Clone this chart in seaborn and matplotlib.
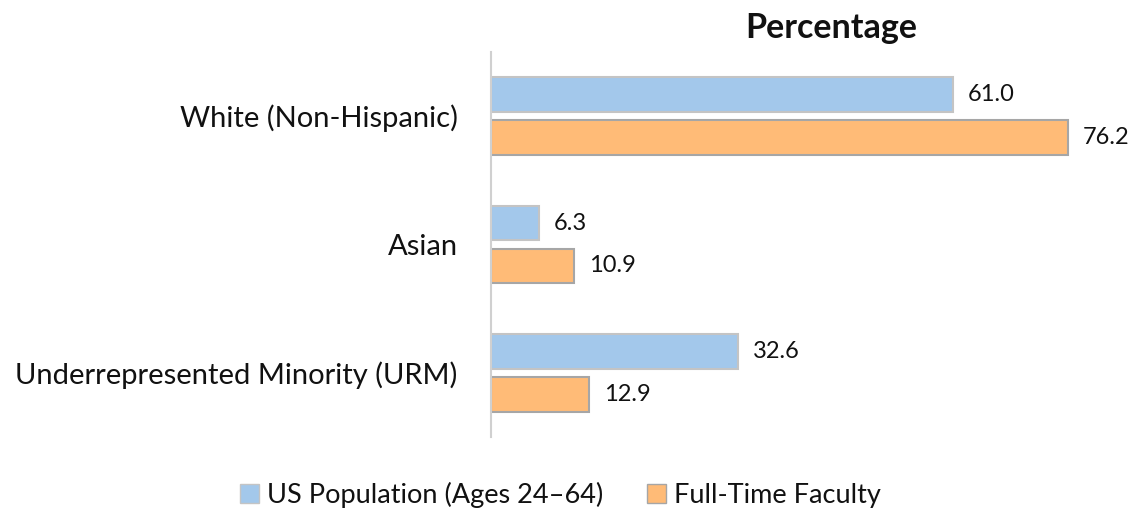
import matplotlib
matplotlib.use("Agg")
import matplotlib.pyplot as plt
import seaborn as sns
import pandas as pd
from matplotlib.patches import Patch

categories = ["White (Non-Hispanic)", "Asian", "Underrepresented Minority (URM)"]
series = ["US Population (Ages 24\u201364)", "Full-Time Faculty"]
us_population = [61.0, 6.3, 32.6]
faculty = [76.2, 10.9, 12.9]
title = "Percentage"

colors = ["#A3C8EB", "#FFBB77"]
edges = ["#C4C4C4", "#A6A6A6"]

sns.set_theme(style="white")
plt.rcParams["font.family"] = ["Lato", "DejaVu Sans"]

df = pd.DataFrame({
    "category": categories * 2,
    "series": [series[0]] * 3 + [series[1]] * 3,
    "value": us_population + faculty,
})

W, H = 1135, 515
fig = plt.figure(figsize=(W / 100, H / 100), dpi=100)
ax = fig.add_axes([491 / W, 1 - 437 / H, (W - 491) / W, 385 / H])

sns.barplot(data=df, y="category", x="value", hue="series", order=categories,
            hue_order=series, palette=colors, orient="h", width=0.67, gap=0.19,
            ax=ax, legend=False, errorbar=None, saturation=1)

for i, cont in enumerate(ax.containers):
    for bar in cont:
        bar.set_edgecolor(edges[i])
        bar.set_linewidth(1.5)
    ax.bar_label(cont, fmt="%.1f", padding=11, fontsize=17, color="#111111")

ax.set_xlim(0, (W - 491) / 7.57)
ax.set_ylim(2.5, -0.5)
ax.set_xlabel("")
ax.set_ylabel("")
ax.set_xticks([])
ax.tick_params(axis="y", length=0, pad=24, labelsize=21, labelcolor="#111111")
for s in ["top", "right", "bottom"]:
    ax.spines[s].set_visible(False)
ax.spines["left"].set_color("#D0D0D0")
ax.spines["left"].set_linewidth(1.5)

fig.text(831 / W, 1 - 28 / H, title, ha="center", va="center",
         fontsize=24.5, fontweight="bold", color="#111111")

handles = [Patch(facecolor=colors[i], edgecolor=edges[i], label=series[i]) for i in range(2)]
fig.legend(handles=handles, loc="center", bbox_to_anchor=(0.494, 1 - 495 / H), ncol=2,
           frameon=False, fontsize=19.5, handlelength=0.7, handleheight=0.7,
           handletextpad=0.3, columnspacing=1.6, labelcolor="#111111",
           borderpad=0, borderaxespad=0)

fig.savefig("out.png", dpi=100)
